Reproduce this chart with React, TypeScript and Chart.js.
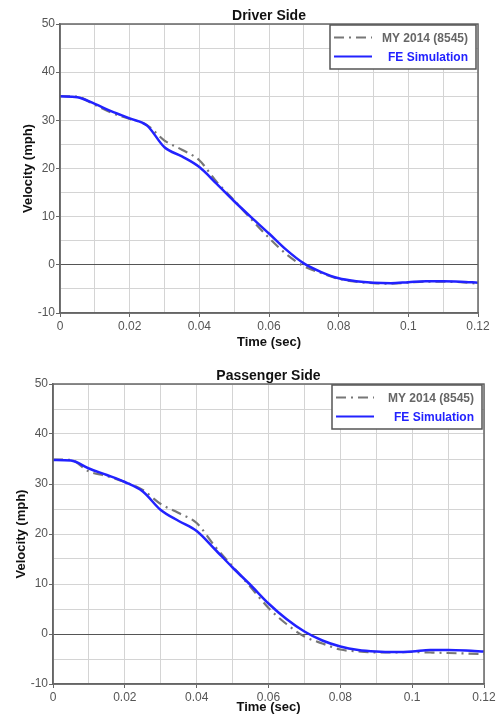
import React, { useEffect, useRef } from 'react';
import { Chart, registerables } from 'chart.js';

Chart.register(...registerables);

// Shared time samples (sec)
const timeSec = [
  0, 0.005, 0.01, 0.015, 0.02, 0.025, 0.03, 0.035, 0.04, 0.045, 0.05, 0.055, 0.06,
  0.065, 0.07, 0.075, 0.08, 0.085, 0.09, 0.095, 0.1, 0.105, 0.11, 0.115, 0.12,
];

// Driver side velocities (mph)
const driverTest = [
  35.0, 34.9, 33.2, 31.5, 30.3, 29.0, 25.8, 23.9, 21.7, 17.2, 13.4, 9.4, 5.6,
  2.2, -0.3, -1.7, -2.9, -3.5, -3.8, -3.9, -3.7, -3.5, -3.5, -3.6, -3.9,
];
const driverSim = [
  35.0, 34.8, 33.4, 31.8, 30.4, 28.9, 24.4, 22.5, 20.3, 16.8, 13.2, 9.8, 6.5,
  3.1, 0.3, -1.5, -2.8, -3.4, -3.7, -3.8, -3.6, -3.4, -3.4, -3.5, -3.7,
];

// Passenger side velocities (mph)
const passengerTest = [
  34.9, 34.8, 32.5, 31.6, 30.4, 28.8, 26.0, 24.2, 22.2, 17.6, 13.5, 9.4, 5.2,
  2.0, -0.5, -1.9, -3.1, -3.5, -3.7, -3.7, -3.6, -3.7, -3.8, -3.9, -4.0,
];
const passengerSim = [
  34.8, 34.7, 33.1, 31.8, 30.4, 28.5, 24.8, 22.6, 20.6, 17.0, 13.3, 9.8, 6.1,
  3.0, 0.5, -1.3, -2.5, -3.2, -3.5, -3.6, -3.5, -3.2, -3.2, -3.3, -3.5,
];

const seriesLabels = ['MY 2014 (8545)', 'FE Simulation'];
const xTitle = 'Time (sec)';
const yTitle = 'Velocity (mph)';

const FONT = '"Liberation Sans", Arial, sans-serif';
const GREY = '#777777';
const BLUE = '#2222ff';

type PanelProps = {
  title: string;
  test: number[];
  sim: number[];
  height: number;
  yAxisWidth: number;
  xAxisHeight: number;
  padRight: number;
  yTitlePad: number;
  xTitlePad: number;
  legendWidth: number;
};

function ChartPanel(p: PanelProps) {
  const ref = useRef<HTMLCanvasElement | null>(null);

  useEffect(() => {
    if (!ref.current) return;

    const framePlugin = {
      id: 'frameAndLegend',
      afterDraw(chart: any) {
        const { ctx, chartArea } = chart;
        const { left, right, top, bottom } = chartArea;
        ctx.save();
        // plot frame
        ctx.strokeStyle = '#666666';
        ctx.lineWidth = 1.5;
        ctx.strokeRect(left, top, right - left, bottom - top);
        // title
        ctx.fillStyle = '#111111';
        ctx.font = `bold 14px ${FONT}`;
        ctx.textAlign = 'center';
        ctx.textBaseline = 'middle';
        ctx.fillText(p.title, (left + right) / 2, top - 8);
        // legend
        const bw = p.legendWidth;
        const bh = 44;
        const bx = right - 2 - bw;
        const by = top + 1;
        ctx.fillStyle = '#ffffff';
        ctx.fillRect(bx, by, bw, bh);
        ctx.strokeStyle = '#555555';
        ctx.lineWidth = 1.5;
        ctx.strokeRect(bx, by, bw, bh);
        const rows = [
          { label: seriesLabels[0], color: GREY, dash: [10, 5, 2, 5], text: '#666666', y: by + 12.5 },
          { label: seriesLabels[1], color: BLUE, dash: [], text: '#2222ff', y: by + 31.5 },
        ];
        ctx.font = `bold 12px ${FONT}`;
        ctx.textAlign = 'right';
        for (const r of rows) {
          ctx.beginPath();
          ctx.setLineDash(r.dash);
          ctx.strokeStyle = r.color;
          ctx.lineWidth = 2;
          ctx.moveTo(bx + 4, r.y);
          ctx.lineTo(bx + 42, r.y);
          ctx.stroke();
          ctx.setLineDash([]);
          ctx.fillStyle = r.text;
          ctx.fillText(r.label, bx + bw - 8, r.y + 1);
        }
        ctx.restore();
      },
    };

    const chart = new Chart(ref.current, {
      type: 'line',
      data: {
        datasets: [
          {
            label: seriesLabels[0],
            data: timeSec.map((t, i) => ({ x: t, y: p.test[i] })),
            borderColor: GREY,
            borderWidth: 2.2,
            borderDash: [10, 5, 2, 5],
            pointRadius: 0,
            cubicInterpolationMode: 'monotone',
            fill: false,
            order: 2,
          },
          {
            label: seriesLabels[1],
            data: timeSec.map((t, i) => ({ x: t, y: p.sim[i] })),
            borderColor: BLUE,
            borderWidth: 2.5,
            pointRadius: 0,
            cubicInterpolationMode: 'monotone',
            fill: false,
            order: 1,
          },
        ],
      },
      options: {
        animation: false,
        responsive: true,
        maintainAspectRatio: false,
        layout: { padding: { top: 24, right: p.padRight, left: 0, bottom: 0 } },
        plugins: {
          legend: { display: false },
          title: { display: false },
          tooltip: { enabled: false },
        },
        scales: {
          x: {
            type: 'linear',
            min: 0,
            max: 0.12,
            afterFit(axis: any) {
              axis.height = p.xAxisHeight;
            },
            ticks: {
              stepSize: 0.01,
              autoSkip: false,
              maxRotation: 0,
              padding: 2,
              color: '#555555',
              font: { family: FONT, size: 12 },
              callback(v: any) {
                const n = Math.round(Number(v) * 100);
                if (n % 2 !== 0) return '';
                return n === 0 ? '0' : String(parseFloat((n / 100).toFixed(2)));
              },
            },
            grid: {
              color: '#d4d4d4',
              lineWidth: 1,
              tickLength: 4,
              tickColor: (c: any) =>
                Math.round(c.tick.value * 100) % 2 === 0 ? '#666666' : 'rgba(0,0,0,0)',
            },
            border: { display: true, color: '#666666', width: 1.5 },
            title: {
              display: true,
              text: xTitle,
              color: '#111111',
              font: { family: FONT, size: 13, weight: 'bold' },
              padding: { top: p.xTitlePad, bottom: 0 },
            },
          },
          y: {
            type: 'linear',
            min: -10,
            max: 50,
            afterFit(axis: any) {
              axis.width = p.yAxisWidth;
            },
            ticks: {
              stepSize: 5,
              autoSkip: false,
              padding: 1,
              color: '#555555',
              font: { family: FONT, size: 12 },
              callback(v: any) {
                const n = Math.round(Number(v));
                return n % 10 === 0 ? String(n) : '';
              },
            },
            grid: {
              color: (c: any) => (Math.round(c.tick.value) === 0 ? '#555555' : '#d4d4d4'),
              lineWidth: 1,
              tickLength: 4,
              tickColor: (c: any) =>
                Math.round(c.tick.value) % 10 === 0 ? '#666666' : 'rgba(0,0,0,0)',
            },
            border: { display: true, color: '#666666', width: 1.5 },
            title: {
              display: true,
              text: yTitle,
              color: '#111111',
              font: { family: FONT, size: 13, weight: 'bold' },
              padding: { top: p.yTitlePad, bottom: 0 },
            },
          },
        },
      },
      plugins: [framePlugin],
    } as any);

    return () => chart.destroy();
  }, []);

  return (
    <div style={{ position: 'relative', width: 498, height: p.height }}>
      <canvas ref={ref} />
    </div>
  );
}

export default function App() {
  return (
    <div style={{ position: 'absolute', left: 0, top: 0, width: 498, height: 715, background: '#fff' }}>
      <ChartPanel
        title="Driver Side"
        test={driverTest}
        sim={driverSim}
        height={350}
        yAxisWidth={60}
        xAxisHeight={37}
        padRight={20}
        yTitlePad={21}
        xTitlePad={4}
        legendWidth={146}
      />
      <div style={{ height: 10 }} />
      <ChartPanel
        title="Passenger Side"
        test={passengerTest}
        sim={passengerSim}
        height={355}
        yAxisWidth={53}
        xAxisHeight={31}
        padRight={14}
        yTitlePad={14}
        xTitlePad={0}
        legendWidth={150}
      />
    </div>
  );
}
